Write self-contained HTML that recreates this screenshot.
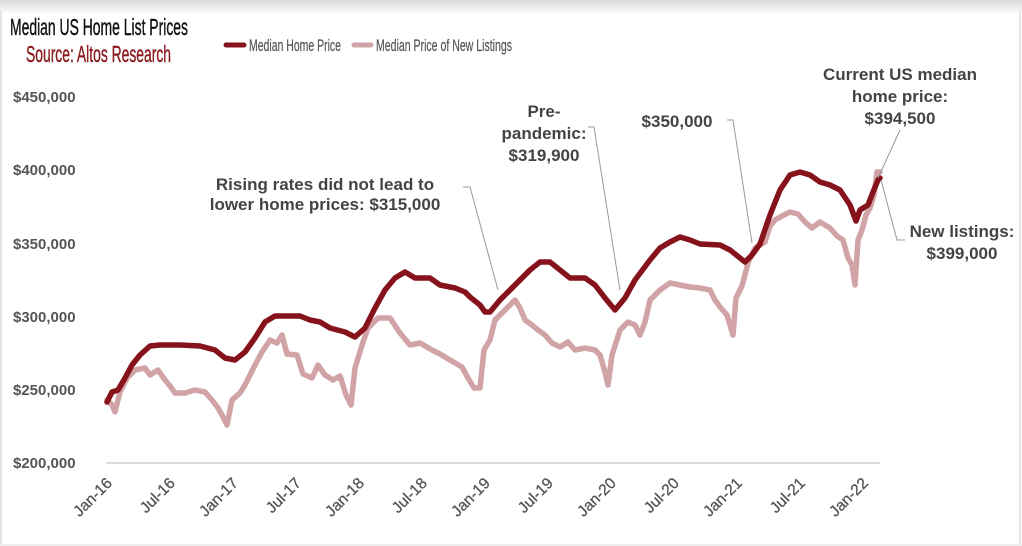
<!DOCTYPE html>
<html><head><meta charset="utf-8"><style>
html,body{margin:0;padding:0;background:#fff}
svg{display:block}
</style></head><body>
<svg width="1022" height="546" viewBox="0 0 1022 546" xmlns="http://www.w3.org/2000/svg">
<defs><linearGradient id="tg" x1="0" y1="0" x2="0" y2="1"><stop offset="0" stop-color="#d8d8d8"/><stop offset="1" stop-color="#fff"/></linearGradient></defs>
<rect width="1022" height="546" fill="#fff"/>
<rect width="1022" height="14" fill="url(#tg)"/>
<line x1="1" y1="10" x2="1" y2="546" stroke="#e6e6e6" stroke-width="2"/>
<line x1="1020" y1="10" x2="1020" y2="546" stroke="#e6e6e6" stroke-width="2"/>
<line x1="0" y1="545" x2="1022" y2="545" stroke="#eee" stroke-width="2"/>
<g font-family="'Liberation Sans',sans-serif">
<text x="10" y="35" font-size="23" fill="#111" stroke="#111" stroke-width="0.4" textLength="178" lengthAdjust="spacingAndGlyphs">Median US Home List Prices</text>
<text x="26" y="62" font-size="23" fill="#8b1a1f" stroke="#8b1a1f" stroke-width="0.4" textLength="145" lengthAdjust="spacingAndGlyphs">Source: Altos Research</text>
<line x1="226" y1="45" x2="244" y2="45" stroke="#86131c" stroke-width="5" stroke-linecap="round"/>
<text x="249" y="51" font-size="17" fill="#555" stroke="#555" stroke-width="0.2" textLength="92" lengthAdjust="spacingAndGlyphs">Median Home Price</text>
<line x1="354" y1="45" x2="371" y2="45" stroke="#d1a3a7" stroke-width="5" stroke-linecap="round"/>
<text x="376" y="51" font-size="17" fill="#555" stroke="#555" stroke-width="0.2" textLength="136" lengthAdjust="spacingAndGlyphs">Median Price of New Listings</text>
</g>
<g font-family="'Liberation Sans',sans-serif" font-weight="bold" font-size="15" fill="#555">
<text x="13" y="102">$450,000</text>
<text x="13" y="175">$400,000</text>
<text x="13" y="249">$350,000</text>
<text x="13" y="322">$300,000</text>
<text x="13" y="395">$250,000</text>
<text x="13" y="468">$200,000</text>
</g>
<line x1="106" y1="463" x2="880" y2="463" stroke="#ddd" stroke-width="2"/>
<g font-family="'Liberation Sans',sans-serif" font-size="15.5" fill="#555" stroke="#555" stroke-width="0.3" text-anchor="end">
<text transform="translate(113,484) rotate(-45)">Jan-16</text>
<text transform="translate(176,484) rotate(-45)">Jul-16</text>
<text transform="translate(239,484) rotate(-45)">Jan-17</text>
<text transform="translate(302,484) rotate(-45)">Jul-17</text>
<text transform="translate(365,484) rotate(-45)">Jan-18</text>
<text transform="translate(428,484) rotate(-45)">Jul-18</text>
<text transform="translate(491,484) rotate(-45)">Jan-19</text>
<text transform="translate(554,484) rotate(-45)">Jul-19</text>
<text transform="translate(617,484) rotate(-45)">Jan-20</text>
<text transform="translate(680,484) rotate(-45)">Jul-20</text>
<text transform="translate(743,484) rotate(-45)">Jan-21</text>
<text transform="translate(806,484) rotate(-45)">Jul-21</text>
<text transform="translate(869,484) rotate(-45)">Jan-22</text>
</g>
<polyline fill="none" stroke="#d1a3a7" stroke-width="5.5" stroke-linejoin="round" stroke-linecap="round" points="107,400 112,405 115,412 120,392 127,378 135,370 145,368 150,375 158,370 165,380 170,386 175,393 185,393 195,390 205,392 212,400 218,408 222,415 227,425 232,400 240,393 245,385 255,365 262,352 270,340 277,343 282,335 287,354 297,355 303,374 312,378 318,365 325,375 333,380 340,376 346,395 351,405 355,368 362,345 368,328 378,318 390,318 400,333 410,345 420,343 432,350 440,354 450,360 462,367 468,378 474,388 480,388 484,350 490,340 495,320 505,310 515,300 520,308 525,320 532,325 538,330 545,335 552,343 560,347 568,342 575,350 585,348 595,350 600,355 605,372 608,385 612,355 620,330 628,322 635,325 640,335 645,322 650,300 660,290 670,283 680,285 690,287 700,288 710,290 715,300 720,307 727,315 733,335 736,298 742,286 748,263 755,248 765,242 770,226 775,220 782,216 790,212 798,214 805,222 812,228 820,222 830,228 837,236 843,240 848,258 852,265 855,285 858,240 862,230 866,215 870,208 874,195 877,172 880,172"/>
<polyline fill="none" stroke="#86131c" stroke-width="5.5" stroke-linejoin="round" stroke-linecap="round" points="107,402 112,392 118,390 125,378 132,365 140,355 150,346 160,345 180,345 200,346 215,350 225,358 235,360 245,352 255,338 265,322 275,316 300,316 310,320 320,322 330,328 345,332 355,337 365,328 375,308 385,290 395,278 405,272 415,278 430,278 440,285 455,288 465,292 470,297 480,305 485,312 490,312 500,300 510,290 520,280 530,270 540,262 550,262 560,270 570,278 585,278 595,285 605,298 615,310 625,298 635,280 650,260 660,248 670,242 680,237 690,240 700,244 720,245 730,250 740,258 745,262 752,255 760,244 770,215 780,190 790,175 800,172 810,175 820,182 830,185 840,190 850,205 856,221 860,210 868,205 873,192 878,180 880,178"/>
<g fill="none" stroke="#999" stroke-width="1">
<polyline points="463,187 470,187 498,290"/>
<polyline points="588,127 594,127 620,290"/>
<polyline points="727,120 733,120 752,243"/>
<polyline points="900,130 878,178"/>
<polyline points="905,240 897,240 881,180"/>
</g>
<g font-family="'Liberation Sans',sans-serif" font-weight="bold" font-size="17" fill="#444" text-anchor="middle">
<text x="325" y="190">Rising rates did not lead to</text>
<text x="325" y="210">lower home prices: $315,000</text>
<text x="544" y="117">Pre-</text>
<text x="544" y="139">pandemic:</text>
<text x="544" y="161">$319,900</text>
<text x="677" y="127">$350,000</text>
<text x="900" y="80">Current US median</text>
<text x="900" y="102">home price:</text>
<text x="900" y="124">$394,500</text>
<text x="962" y="237">New listings:</text>
<text x="962" y="259">$399,000</text>
</g>
</svg>
</body></html>
